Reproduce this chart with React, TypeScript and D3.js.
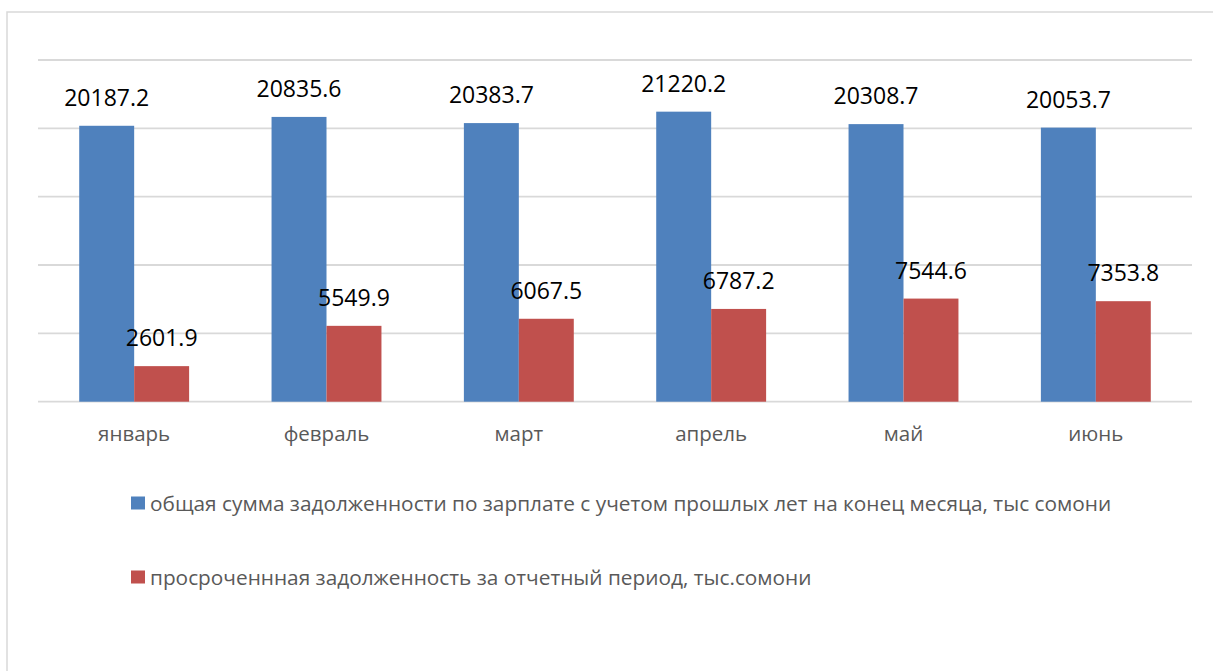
import { scaleBand, scaleLinear } from 'd3';

const months = ['январь', 'февраль', 'март', 'апрель', 'май', 'июнь'];
const totalDebt = [20187.2, 20835.6, 20383.7, 21220.2, 20308.7, 20053.7];
const overdueDebt = [2601.9, 5549.9, 6067.5, 6787.2, 7544.6, 7353.8];
const gridTicks = [0, 5000, 10000, 15000, 20000, 25000];

const seriesNames = ['total', 'overdue'];
const seriesLabels = [
  'общая сумма задолженности по зарплате с учетом прошлых лет на конец месяца, тыс сомони',
  'просроченнная задолженность за отчетный период, тыс.сомони',
];
const seriesColors = ['#4f81bd', '#c0504d'];

const width = 1213;
const height = 671;
const plot = { left: 38, right: 1192, top: 60, bottom: 401.7 };
const font = '"Open Sans", "DejaVu Sans", sans-serif';

export default function App() {
  const xScale = scaleBand<string>().domain(months).range([plot.left, plot.right]);
  const step = xScale.bandwidth();
  // Excel-like gap width of 150%
  const barWidth = step / 3.5;
  const inner = scaleBand<string>()
    .domain(seriesNames)
    .range([step / 2 - barWidth, step / 2 + barWidth]);

  const yScale = scaleLinear().domain([0, 25000]).range([plot.bottom, plot.top]);

  const series = [totalDebt, overdueDebt];

  return (
    <svg
      width={width}
      height={height}
      viewBox={`0 0 ${width} ${height}`}
      style={{ position: 'absolute', left: 0, top: 0, background: '#fff' }}
    >
      <rect x={7} y={12} width={width + 20} height={height + 20} fill="#fff" stroke="#d9d9d9" strokeWidth={1.5} />

      {gridTicks.map(tick => (
        <line
          key={tick}
          x1={plot.left}
          x2={plot.right}
          y1={yScale(tick)}
          y2={yScale(tick)}
          stroke="#d9d9d9"
          strokeWidth={1.8}
        />
      ))}

      {months.map((month, i) => {
        const x0 = xScale(month) ?? 0;
        return (
          <g key={month}>
            {series.map((values, s) => {
              const bx = x0 + (inner(seriesNames[s]) ?? 0);
              const y = yScale(values[i]);
              return (
                <g key={seriesNames[s]}>
                  <rect x={bx} y={y} width={inner.bandwidth()} height={yScale(0) - y} fill={seriesColors[s]} />
                  <text
                    x={bx + inner.bandwidth() / 2}
                    y={y - 20}
                    textAnchor="middle"
                    fontFamily={font}
                    fontSize={23}
                    fill="#000"
                  >
                    {values[i].toFixed(1)}
                  </text>
                </g>
              );
            })}
            <text x={x0 + step / 2} y={441} textAnchor="middle" fontFamily={font} fontSize={20.5} fill="#595959">
              {month}
            </text>
          </g>
        );
      })}

      {seriesLabels.map((label, s) => {
        const cy = 503 + s * 74;
        return (
          <g key={label}>
            <rect x={131} y={cy - 6.5} width={14} height={13} fill={seriesColors[s]} />
            <text x={150} y={cy + 7.5} fontFamily={font} fontSize={20.8} fill="#595959">
              {label}
            </text>
          </g>
        );
      })}
    </svg>
  );
}
